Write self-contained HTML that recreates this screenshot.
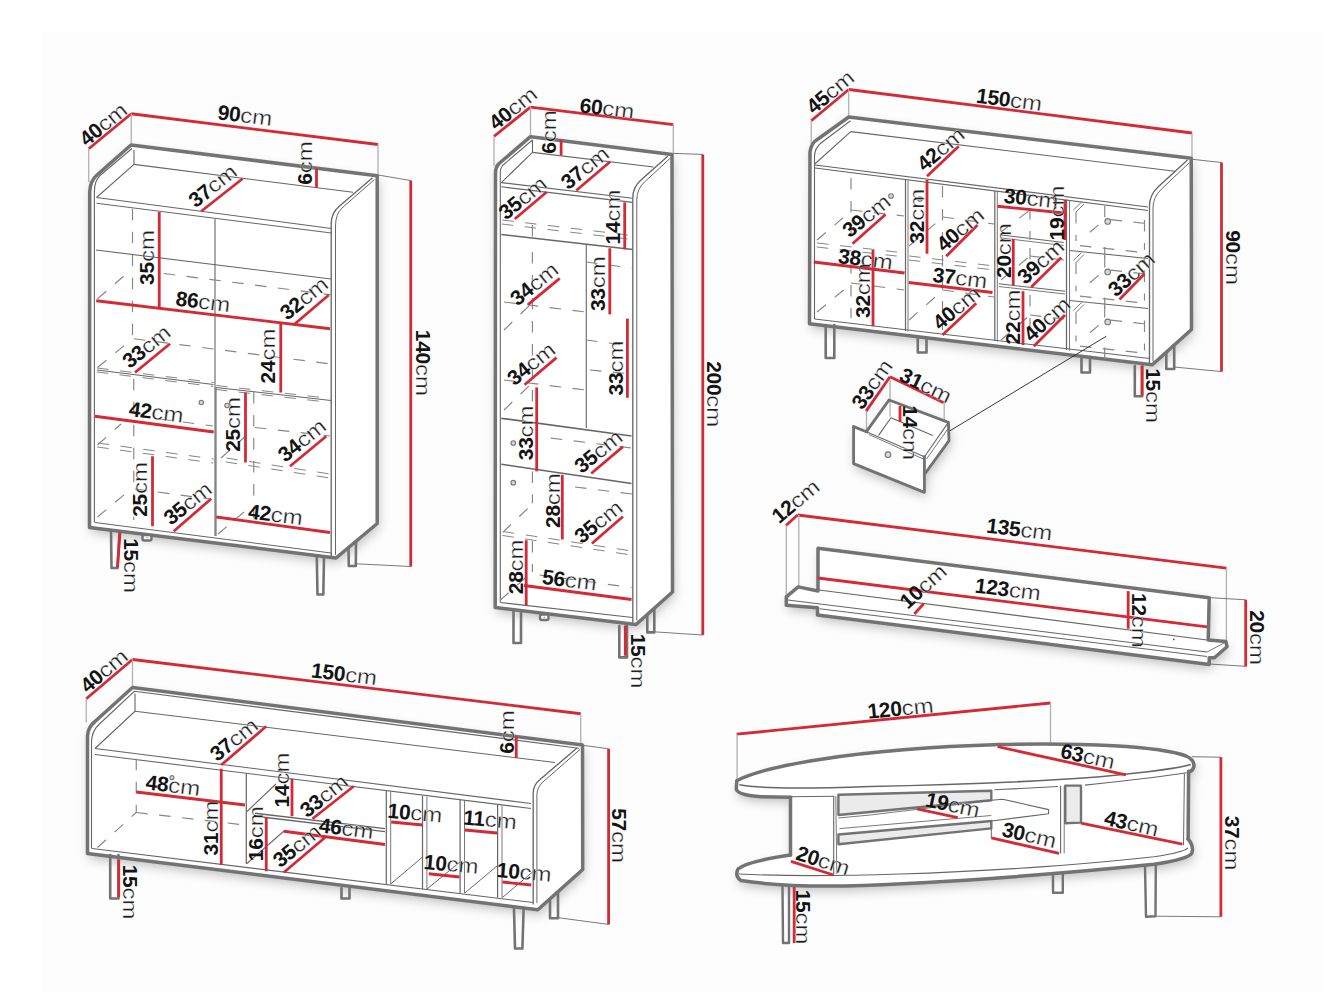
<!DOCTYPE html>
<html><head><meta charset="utf-8"><style>
html,body{margin:0;padding:0;background:#fff;}
body{width:1343px;height:1007px;overflow:hidden;}
svg{display:block;}
text{font-family:"Liberation Sans",sans-serif;fill:#141414;}
.cm{stroke:#fff;stroke-width:0.3px;fill:#1e1e1e;}
</style></head><body>
<svg width="1343" height="1007" viewBox="0 0 1343 1007">
<defs>
<filter id="sh" x="-20%" y="-20%" width="140%" height="140%"><feDropShadow dx="1.5" dy="5" stdDeviation="5.5" flood-color="#000" flood-opacity="0.24"/></filter>
</defs>
<rect x="0" y="0" width="1343" height="1007" fill="#fff"/>
<rect x="42" y="32" width="1281" height="960" fill="#fdfdfd"/>
<g filter="url(#sh)" fill="#fff" stroke="none"><path d="M131,145 L377.2,175.8 L377.2,523.5 L336,558 L89.5,527.5 L89.7,192 Q90,181 97,175 Z"/><path d="M530.5,136.7 L672,154.4 L672.5,592 L636,624.5 L495.2,607.5 L495.5,173 Q495.5,167.5 498.5,164 Z"/><path d="M848.75,117 L1191.2,158.3 L1191.5,329.5 L1152.3,364.8 L809.5,323.75 L810,152 Q811,143 818,139 Z"/><path d="M853.6,426.6 L866.6,431.3 L889,400 L948.4,422.4 L949,440.7 L925.5,473 L924.4,492.3 L853.6,463.6 Z"/><path d="M818,591 L818,548.3 L1209.2,597.7 L1208.2,640 L1225.9,641.5 L1227,646.7 L1214.4,657.7 L1209.2,657.7 L1209.2,664.4 L817.5,615 L817.5,607.8 L786.3,605.2 L786.3,596.8 L798.2,586.9 Z"/><path d="M132.5,687.5 L582.5,745 L582.7,869.5 L537.8,909.7 L87.5,853.5 L87.5,736 Q88,727 95,721.5 Z"/><path d="M736.8,780.7 C 762,767 850,749 1000,744.5 C 1080,742.5 1160,746 1186,756 Q 1195,760 1193.8,767.1 Q 1192.5,771 1188.6,772 L1188.1,839 Q 1194,846 1191.9,852.9 C 1190,857 1175,861 1153.9,864.3 C 1080,872 950,883 845,885.9 C 810,886.5 770,885 741,880.5 Q 734.5,876 738,869 C 745,863 770,858 790.5,855.1 L790.5,797.3 L 761.3,796.8 Q 737,795 736.3,789 Z"/></g>
<line x1="88.75" y1="148.75" x2="131.25" y2="113.75" stroke="#d42a36" stroke-width="2.8" stroke-linecap="butt"/>
<line x1="131.25" y1="113.75" x2="378" y2="144.5" stroke="#d42a36" stroke-width="2.8" stroke-linecap="butt"/>
<line x1="131.25" y1="113.75" x2="131.25" y2="145" stroke="#b0b0b0" stroke-width="1.3" />
<line x1="88.75" y1="148.75" x2="88.75" y2="182" stroke="#b0b0b0" stroke-width="1.3" />
<line x1="378" y1="144.5" x2="378" y2="175" stroke="#b0b0b0" stroke-width="1.3" />
<line x1="378" y1="175" x2="410.75" y2="180.5" stroke="#6a6a6a" stroke-width="0.9" />
<line x1="410.75" y1="180.5" x2="410.75" y2="566.5" stroke="#d42a36" stroke-width="2.8" stroke-linecap="butt"/>
<line x1="355" y1="563.75" x2="410.75" y2="566.5" stroke="#6a6a6a" stroke-width="0.9" />
<path d="M131,145 L377.2,175.8 L377.2,523.5 L336,558 L89.5,527.5 L89.7,192 Q90,181 97,175 Z" stroke="#737373" stroke-width="3.5" fill="none" stroke-linejoin="round" stroke-linecap="round"/>
<path d="M132,148.5 L100,175.5 Q94.4,181 94.4,192 L94.4,522.5" stroke="#666666" stroke-width="1.1" fill="none" stroke-linejoin="round"/>
<path d="M95,522.5 L331,553" stroke="#666666" stroke-width="1.1" fill="none" stroke-linejoin="round"/>
<path d="M372.5,177.7 L339,206.5 Q331.2,213 331.2,224 L331.2,557" stroke="#666666" stroke-width="1.32" fill="none" stroke-linejoin="round"/>
<path d="M374.5,179.5 L342,208 Q335.5,214 335.5,226 L335.5,555" stroke="#666666" stroke-width="0.9900000000000001" fill="none" stroke-linejoin="round"/>
<path d="M134,150.1 L134,164.4 L96.5,197.5" stroke="#666666" stroke-width="1.1" fill="none" stroke-linejoin="round"/>
<path d="M134,164.4 L353,192.3" stroke="#666666" stroke-width="1.1" fill="none" stroke-linejoin="round"/>
<path d="M96.5,197.5 L331.5,228.5" stroke="#666666" stroke-width="1.1" fill="none" stroke-linejoin="round"/>
<path d="M96.5,203.3 L331.5,233" stroke="#666666" stroke-width="1.1" fill="none" stroke-linejoin="round"/>
<path d="M215,219 L215,536" stroke="#666666" stroke-width="1.1" fill="none" stroke-linejoin="round"/>
<path d="M96,250 L331,279" stroke="#666666" stroke-width="1.1" fill="none" stroke-linejoin="round"/>
<line x1="132.5" y1="208.75" x2="132.5" y2="340" stroke="#858585" stroke-width="1.15" stroke-dasharray="11.5 11.5"/>
<line x1="163.75" y1="273.5" x2="331" y2="294.8" stroke="#858585" stroke-width="1.15" stroke-dasharray="11.5 11.5"/>
<line x1="97.5" y1="298.75" x2="125" y2="275" stroke="#858585" stroke-width="1.15" stroke-dasharray="11.5 11.5"/>
<line x1="133.75" y1="338.75" x2="329" y2="363.75" stroke="#858585" stroke-width="1.15" stroke-dasharray="11.5 11.5"/>
<line x1="97.5" y1="367.5" x2="132.5" y2="338.75" stroke="#858585" stroke-width="1.15" stroke-dasharray="11.5 11.5"/>
<path d="M97,370 L213.5,384.5" stroke="#666666" stroke-width="1.1" fill="none" stroke-linejoin="round"/>
<path d="M216,387.5 L331,400.5" stroke="#666666" stroke-width="1.1" fill="none" stroke-linejoin="round"/>
<line x1="96.75" y1="371.98" x2="213.25" y2="386.48" stroke="#858585" stroke-width="1.0" stroke-dasharray="11.5 11.5"/>
<line x1="97.25" y1="368.02" x2="213.75" y2="382.52" stroke="#858585" stroke-width="1.0" stroke-dasharray="11.5 11.5"/>
<line x1="215.78" y1="389.49" x2="330.78" y2="402.49" stroke="#858585" stroke-width="1.0" stroke-dasharray="11.5 11.5"/>
<line x1="216.22" y1="385.51" x2="331.22" y2="398.51" stroke="#858585" stroke-width="1.0" stroke-dasharray="11.5 11.5"/>
<path d="M216,387.5 L216,536" stroke="#666666" stroke-width="1.1" fill="none" stroke-linejoin="round"/>
<line x1="133.75" y1="378.75" x2="133.75" y2="520" stroke="#858585" stroke-width="1.15" stroke-dasharray="11.5 11.5"/>
<line x1="97.23" y1="446.98" x2="213.23" y2="462.98" stroke="#858585" stroke-width="1.0" stroke-dasharray="11.5 11.5"/>
<line x1="97.77" y1="443.02" x2="213.77" y2="459.02" stroke="#858585" stroke-width="1.0" stroke-dasharray="11.5 11.5"/>
<line x1="225.7" y1="461.98" x2="329.7" y2="477.98" stroke="#858585" stroke-width="1.0" stroke-dasharray="11.5 11.5"/>
<line x1="226.3" y1="458.02" x2="330.3" y2="474.02" stroke="#858585" stroke-width="1.0" stroke-dasharray="11.5 11.5"/>
<line x1="97.5" y1="445" x2="121" y2="424" stroke="#858585" stroke-width="1.15" stroke-dasharray="11.5 11.5"/>
<line x1="97.5" y1="517" x2="125" y2="494" stroke="#858585" stroke-width="1.15" stroke-dasharray="11.5 11.5"/>
<line x1="160" y1="419" x2="213" y2="426" stroke="#858585" stroke-width="1.15" stroke-dasharray="11.5 11.5"/>
<line x1="135" y1="489" x2="210" y2="499" stroke="#858585" stroke-width="1.15" stroke-dasharray="11.5 11.5"/>
<line x1="253.75" y1="392" x2="253.75" y2="520" stroke="#858585" stroke-width="1.15" stroke-dasharray="11.5 11.5"/>
<line x1="255" y1="427.5" x2="330" y2="436" stroke="#858585" stroke-width="1.15" stroke-dasharray="11.5 11.5"/>
<line x1="221" y1="458" x2="248" y2="434" stroke="#858585" stroke-width="1.15" stroke-dasharray="11.5 11.5"/>
<line x1="218" y1="534" x2="244" y2="512" stroke="#858585" stroke-width="1.15" stroke-dasharray="11.5 11.5"/>
<circle cx="201.25" cy="402.5" r="2.2" stroke="#777" stroke-width="1.1" fill="#d8d8d8"/>
<circle cx="227" cy="405.5" r="2.2" stroke="#777" stroke-width="1.1" fill="#d8d8d8"/>
<path d="M111,531 L111.5,568 L117.5,568 L119.5,531" stroke="#737373" stroke-width="2.6" fill="none" stroke-linejoin="round" stroke-linecap="round"/>
<path d="M316.8,557.5 L317.5,594.5 L323.3,594.5 L324,557.5" stroke="#737373" stroke-width="2.6" fill="none" stroke-linejoin="round" stroke-linecap="round"/>
<path d="M348.5,547.5 L348.8,566 L355.8,566 L356,541.2" stroke="#737373" stroke-width="2.6" fill="none" stroke-linejoin="round" stroke-linecap="round"/>
<rect x="142.5" y="535" width="9" height="5.5" rx="2" fill="#fff" stroke="#737373" stroke-width="2.4"/>
<circle cx="147" cy="537.75" r="0.8" fill="#999"/>
<line x1="201.25" y1="211.25" x2="242.5" y2="178.75" stroke="#d42a36" stroke-width="2.8" stroke-linecap="butt"/>
<line x1="316.5" y1="168.3" x2="316.5" y2="187.6" stroke="#d42a36" stroke-width="2.8" stroke-linecap="butt"/>
<line x1="159.25" y1="212" x2="159.25" y2="307.5" stroke="#d42a36" stroke-width="2.8" stroke-linecap="butt"/>
<line x1="96.25" y1="300.75" x2="330" y2="328.75" stroke="#d42a36" stroke-width="2.8" stroke-linecap="butt"/>
<line x1="295" y1="323.75" x2="328.75" y2="295" stroke="#d42a36" stroke-width="2.8" stroke-linecap="butt"/>
<line x1="280.75" y1="323.75" x2="280.75" y2="392.5" stroke="#d42a36" stroke-width="2.8" stroke-linecap="butt"/>
<line x1="135" y1="372.5" x2="170" y2="343.75" stroke="#d42a36" stroke-width="2.8" stroke-linecap="butt"/>
<line x1="95" y1="416.25" x2="213.75" y2="432" stroke="#d42a36" stroke-width="2.8" stroke-linecap="butt"/>
<line x1="245.5" y1="392.5" x2="245.5" y2="462.5" stroke="#d42a36" stroke-width="2.8" stroke-linecap="butt"/>
<line x1="290" y1="466.25" x2="326.25" y2="436.25" stroke="#d42a36" stroke-width="2.8" stroke-linecap="butt"/>
<line x1="152.5" y1="456.25" x2="152.5" y2="526.25" stroke="#d42a36" stroke-width="2.8" stroke-linecap="butt"/>
<line x1="173.75" y1="531.25" x2="211.25" y2="498.75" stroke="#d42a36" stroke-width="2.8" stroke-linecap="butt"/>
<line x1="216.25" y1="517" x2="330" y2="532.5" stroke="#d42a36" stroke-width="2.8" stroke-linecap="butt"/>
<line x1="120" y1="532.5" x2="117.5" y2="567.5" stroke="#d42a36" stroke-width="2.8" stroke-linecap="butt"/>
<text transform="translate(103,124) rotate(-39.5)" x="0" y="7.56" text-anchor="middle" font-size="21"><tspan font-weight="bold" letter-spacing="-0.3">40</tspan><tspan class="cm" textLength="32" lengthAdjust="spacingAndGlyphs">cm</tspan></text>
<text transform="translate(245,115) rotate(7)" x="0" y="7.56" text-anchor="middle" font-size="21"><tspan font-weight="bold" letter-spacing="-0.3">90</tspan><tspan class="cm" textLength="32" lengthAdjust="spacingAndGlyphs">cm</tspan></text>
<text transform="translate(304,163) rotate(-90)" x="0" y="7.56" text-anchor="middle" font-size="21"><tspan font-weight="bold" letter-spacing="-0.3">6</tspan><tspan class="cm" textLength="32" lengthAdjust="spacingAndGlyphs">cm</tspan></text>
<text transform="translate(212.5,185.5) rotate(-38.5)" x="0" y="7.56" text-anchor="middle" font-size="21"><tspan font-weight="bold" letter-spacing="-0.3">37</tspan><tspan class="cm" textLength="32" lengthAdjust="spacingAndGlyphs">cm</tspan></text>
<text transform="translate(146.25,257.5) rotate(-90)" x="0" y="7.56" text-anchor="middle" font-size="21"><tspan font-weight="bold" letter-spacing="-0.3">35</tspan><tspan class="cm" textLength="32" lengthAdjust="spacingAndGlyphs">cm</tspan></text>
<text transform="translate(203,301.25) rotate(7)" x="0" y="7.56" text-anchor="middle" font-size="21"><tspan font-weight="bold" letter-spacing="-0.3">86</tspan><tspan class="cm" textLength="32" lengthAdjust="spacingAndGlyphs">cm</tspan></text>
<text transform="translate(303.75,298) rotate(-39)" x="0" y="7.56" text-anchor="middle" font-size="21"><tspan font-weight="bold" letter-spacing="-0.3">32</tspan><tspan class="cm" textLength="32" lengthAdjust="spacingAndGlyphs">cm</tspan></text>
<text transform="translate(146.25,346.25) rotate(-39)" x="0" y="7.56" text-anchor="middle" font-size="21"><tspan font-weight="bold" letter-spacing="-0.3">33</tspan><tspan class="cm" textLength="32" lengthAdjust="spacingAndGlyphs">cm</tspan></text>
<text transform="translate(267.5,356) rotate(-90)" x="0" y="7.56" text-anchor="middle" font-size="21"><tspan font-weight="bold" letter-spacing="-0.3">24</tspan><tspan class="cm" textLength="32" lengthAdjust="spacingAndGlyphs">cm</tspan></text>
<text transform="translate(423.5,362.9) rotate(90)" x="0" y="7.56" text-anchor="middle" font-size="21"><tspan font-weight="bold" letter-spacing="-0.3">140</tspan><tspan class="cm" textLength="32" lengthAdjust="spacingAndGlyphs">cm</tspan></text>
<text transform="translate(156.25,411.75) rotate(7)" x="0" y="7.56" text-anchor="middle" font-size="21"><tspan font-weight="bold" letter-spacing="-0.3">42</tspan><tspan class="cm" textLength="32" lengthAdjust="spacingAndGlyphs">cm</tspan></text>
<text transform="translate(232.5,424.4) rotate(-90)" x="0" y="7.56" text-anchor="middle" font-size="21"><tspan font-weight="bold" letter-spacing="-0.3">25</tspan><tspan class="cm" textLength="32" lengthAdjust="spacingAndGlyphs">cm</tspan></text>
<text transform="translate(301.75,440) rotate(-39)" x="0" y="7.56" text-anchor="middle" font-size="21"><tspan font-weight="bold" letter-spacing="-0.3">34</tspan><tspan class="cm" textLength="32" lengthAdjust="spacingAndGlyphs">cm</tspan></text>
<text transform="translate(139.5,489.4) rotate(-90)" x="0" y="7.56" text-anchor="middle" font-size="21"><tspan font-weight="bold" letter-spacing="-0.3">25</tspan><tspan class="cm" textLength="32" lengthAdjust="spacingAndGlyphs">cm</tspan></text>
<text transform="translate(187.5,503) rotate(-39)" x="0" y="7.56" text-anchor="middle" font-size="21"><tspan font-weight="bold" letter-spacing="-0.3">35</tspan><tspan class="cm" textLength="32" lengthAdjust="spacingAndGlyphs">cm</tspan></text>
<text transform="translate(275.5,514.25) rotate(7)" x="0" y="7.56" text-anchor="middle" font-size="21"><tspan font-weight="bold" letter-spacing="-0.3">42</tspan><tspan class="cm" textLength="32" lengthAdjust="spacingAndGlyphs">cm</tspan></text>
<text transform="translate(131.25,565.6) rotate(90)" x="0" y="7.56" text-anchor="middle" font-size="21"><tspan font-weight="bold" letter-spacing="-0.3">15</tspan><tspan class="cm" textLength="32" lengthAdjust="spacingAndGlyphs">cm</tspan></text>
<line x1="494" y1="136.3" x2="530.5" y2="107.1" stroke="#d42a36" stroke-width="2.8" stroke-linecap="butt"/>
<line x1="530.5" y1="107.1" x2="673.3" y2="124.6" stroke="#d42a36" stroke-width="2.8" stroke-linecap="butt"/>
<line x1="530.5" y1="107.1" x2="530.5" y2="136.7" stroke="#b0b0b0" stroke-width="1.3" />
<line x1="673.3" y1="124.6" x2="673.3" y2="153.4" stroke="#b0b0b0" stroke-width="1.3" />
<line x1="494" y1="136.3" x2="494" y2="166" stroke="#b0b0b0" stroke-width="1.3" />
<line x1="673.3" y1="153.4" x2="702.8" y2="154.4" stroke="#6a6a6a" stroke-width="0.9" />
<line x1="702.8" y1="154.4" x2="702.8" y2="635" stroke="#d42a36" stroke-width="2.8" stroke-linecap="butt"/>
<line x1="652" y1="631.7" x2="702.8" y2="635" stroke="#6a6a6a" stroke-width="0.9" />
<path d="M530.5,136.7 L672,154.4 L672.5,592 L636,624.5 L495.2,607.5 L495.5,173 Q495.5,167.5 498.5,164 Z" stroke="#737373" stroke-width="3.5" fill="none" stroke-linejoin="round" stroke-linecap="round"/>
<path d="M532.5,140 L502.5,165.5 Q500.3,168 500.3,173 L500.3,602.5" stroke="#666666" stroke-width="1.1" fill="none" stroke-linejoin="round"/>
<path d="M500.5,602.5 L632.5,617.5" stroke="#666666" stroke-width="1.1" fill="none" stroke-linejoin="round"/>
<path d="M668,156 L641,180 Q632.8,187 632.8,198 L632.8,622.5" stroke="#666666" stroke-width="1.32" fill="none" stroke-linejoin="round"/>
<path d="M670.5,158 L644.5,182 Q636.8,189 636.8,200 L636.8,620.5" stroke="#666666" stroke-width="0.9900000000000001" fill="none" stroke-linejoin="round"/>
<path d="M532.5,139.8 L532.5,152.4 L501.3,182.6" stroke="#666666" stroke-width="1.1" fill="none" stroke-linejoin="round"/>
<path d="M532.5,152.4 L653.5,167" stroke="#666666" stroke-width="1.1" fill="none" stroke-linejoin="round"/>
<path d="M501.3,182.6 L632.6,198.2" stroke="#666666" stroke-width="1.1" fill="none" stroke-linejoin="round"/>
<path d="M501.3,186.8 L632.6,202.4" stroke="#666666" stroke-width="1.1" fill="none" stroke-linejoin="round"/>
<line x1="501.76" y1="223.99" x2="631.76" y2="239.49" stroke="#858585" stroke-width="1.0" stroke-dasharray="11.5 11.5"/>
<line x1="502.24" y1="220.01" x2="632.24" y2="235.51" stroke="#858585" stroke-width="1.0" stroke-dasharray="11.5 11.5"/>
<line x1="532.4" y1="225" x2="532.4" y2="237" stroke="#858585" stroke-width="1.15" stroke-dasharray="11.5 11.5"/>
<path d="M501.3,234.5 L632.6,249.5" stroke="#666666" stroke-width="1.4300000000000002" fill="none" stroke-linejoin="round"/>
<path d="M586.3,245 L586.3,428" stroke="#666666" stroke-width="1.1" fill="none" stroke-linejoin="round"/>
<line x1="532.4" y1="252" x2="532.4" y2="415" stroke="#858585" stroke-width="1.15" stroke-dasharray="11.5 11.5"/>
<line x1="504" y1="302" x2="586" y2="312" stroke="#858585" stroke-width="1.15" stroke-dasharray="11.5 11.5"/>
<line x1="504" y1="380" x2="586" y2="390" stroke="#858585" stroke-width="1.15" stroke-dasharray="11.5 11.5"/>
<line x1="586" y1="262" x2="632" y2="268" stroke="#858585" stroke-width="1.15" stroke-dasharray="11.5 11.5"/>
<line x1="586" y1="340" x2="632" y2="346" stroke="#858585" stroke-width="1.15" stroke-dasharray="11.5 11.5"/>
<line x1="504" y1="330" x2="532" y2="303" stroke="#858585" stroke-width="1.15" stroke-dasharray="11.5 11.5"/>
<line x1="504" y1="410" x2="532" y2="383" stroke="#858585" stroke-width="1.15" stroke-dasharray="11.5 11.5"/>
<line x1="590" y1="370" x2="632" y2="374" stroke="#858585" stroke-width="1.15" stroke-dasharray="11.5 11.5"/>
<path d="M501.3,418.3 L631.5,436" stroke="#666666" stroke-width="1.7600000000000002" fill="none" stroke-linejoin="round"/>
<line x1="550.8" y1="438.1" x2="631.5" y2="448" stroke="#858585" stroke-width="1.15" stroke-dasharray="11.5 11.5"/>
<path d="M501.3,464.3 L631.5,483.4" stroke="#666666" stroke-width="1.54" fill="none" stroke-linejoin="round"/>
<line x1="532.4" y1="471.4" x2="532.4" y2="503.2" stroke="#858585" stroke-width="1.15" stroke-dasharray="11.5 11.5"/>
<line x1="502.7" y1="532.4" x2="532.4" y2="504" stroke="#858585" stroke-width="1.15" stroke-dasharray="11.5 11.5"/>
<line x1="575" y1="487" x2="632" y2="494" stroke="#858585" stroke-width="1.15" stroke-dasharray="11.5 11.5"/>
<line x1="502.4" y1="535.48" x2="631.2" y2="554.98" stroke="#858585" stroke-width="1.0" stroke-dasharray="11.5 11.5"/>
<line x1="503" y1="531.52" x2="631.8" y2="551.02" stroke="#858585" stroke-width="1.0" stroke-dasharray="11.5 11.5"/>
<line x1="532.4" y1="541" x2="532.4" y2="572" stroke="#858585" stroke-width="1.15" stroke-dasharray="11.5 11.5"/>
<line x1="539.5" y1="575" x2="631.5" y2="587.6" stroke="#858585" stroke-width="1.15" stroke-dasharray="11.5 11.5"/>
<line x1="500" y1="600.4" x2="532" y2="572" stroke="#858585" stroke-width="1.15" stroke-dasharray="11.5 11.5"/>
<circle cx="513.3" cy="443" r="2.3" stroke="#777" stroke-width="1.1" fill="#d8d8d8"/>
<circle cx="513.3" cy="482.7" r="2.3" stroke="#777" stroke-width="1.1" fill="#d8d8d8"/>
<path d="M513.5,611 L513.5,643 L521,643 L521,611" stroke="#737373" stroke-width="2.6" fill="none" stroke-linejoin="round" stroke-linecap="round"/>
<path d="M619.3,626 L619.3,657.4 L627,657.4 L627,626" stroke="#737373" stroke-width="2.6" fill="none" stroke-linejoin="round" stroke-linecap="round"/>
<path d="M647.3,614.4 L647.3,632.4 L654.3,632.4 L654.3,608.2" stroke="#737373" stroke-width="2.6" fill="none" stroke-linejoin="round" stroke-linecap="round"/>
<rect x="540" y="614.5" width="8.5" height="5.5" rx="2" fill="#fff" stroke="#737373" stroke-width="2.4"/>
<circle cx="544.25" cy="617.25" r="0.8" fill="#999"/>
<line x1="561.1" y1="139.8" x2="561.1" y2="155.5" stroke="#d42a36" stroke-width="2.8" stroke-linecap="butt"/>
<line x1="576.3" y1="190.5" x2="610.1" y2="161.7" stroke="#d42a36" stroke-width="2.8" stroke-linecap="butt"/>
<line x1="514.8" y1="219" x2="546.7" y2="192" stroke="#d42a36" stroke-width="2.8" stroke-linecap="butt"/>
<line x1="624.7" y1="202.4" x2="624.7" y2="249.3" stroke="#d42a36" stroke-width="2.8" stroke-linecap="butt"/>
<line x1="609.8" y1="248.3" x2="609.8" y2="314.4" stroke="#d42a36" stroke-width="2.8" stroke-linecap="butt"/>
<line x1="627.4" y1="318.6" x2="627.4" y2="397.8" stroke="#d42a36" stroke-width="2.8" stroke-linecap="butt"/>
<line x1="528" y1="304.6" x2="559.7" y2="278.4" stroke="#d42a36" stroke-width="2.8" stroke-linecap="butt"/>
<line x1="524.6" y1="384.7" x2="556.5" y2="357.6" stroke="#d42a36" stroke-width="2.8" stroke-linecap="butt"/>
<line x1="536.7" y1="387.4" x2="536.7" y2="471.4" stroke="#d42a36" stroke-width="2.8" stroke-linecap="butt"/>
<line x1="591.2" y1="473.5" x2="623" y2="446.6" stroke="#d42a36" stroke-width="2.8" stroke-linecap="butt"/>
<line x1="562.3" y1="474.9" x2="562.3" y2="539.5" stroke="#d42a36" stroke-width="2.8" stroke-linecap="butt"/>
<line x1="591.9" y1="543.5" x2="623" y2="516.5" stroke="#d42a36" stroke-width="2.8" stroke-linecap="butt"/>
<line x1="526.2" y1="540.2" x2="526.2" y2="605.3" stroke="#d42a36" stroke-width="2.8" stroke-linecap="butt"/>
<line x1="524" y1="585.5" x2="631.5" y2="599.5" stroke="#d42a36" stroke-width="2.8" stroke-linecap="butt"/>
<line x1="625.3" y1="625.5" x2="625.3" y2="655.7" stroke="#d42a36" stroke-width="2.8" stroke-linecap="butt"/>
<text transform="translate(512.7,108) rotate(-38.7)" x="0" y="7.56" text-anchor="middle" font-size="21"><tspan font-weight="bold" letter-spacing="-0.3">40</tspan><tspan class="cm" textLength="32" lengthAdjust="spacingAndGlyphs">cm</tspan></text>
<text transform="translate(607,108) rotate(7)" x="0" y="7.56" text-anchor="middle" font-size="21"><tspan font-weight="bold" letter-spacing="-0.3">60</tspan><tspan class="cm" textLength="32" lengthAdjust="spacingAndGlyphs">cm</tspan></text>
<text transform="translate(548.2,132) rotate(-90)" x="0" y="7.56" text-anchor="middle" font-size="21"><tspan font-weight="bold" letter-spacing="-0.3">6</tspan><tspan class="cm" textLength="32" lengthAdjust="spacingAndGlyphs">cm</tspan></text>
<text transform="translate(584.7,167.4) rotate(-39)" x="0" y="7.56" text-anchor="middle" font-size="21"><tspan font-weight="bold" letter-spacing="-0.3">37</tspan><tspan class="cm" textLength="32" lengthAdjust="spacingAndGlyphs">cm</tspan></text>
<text transform="translate(522.5,197.6) rotate(-39)" x="0" y="7.56" text-anchor="middle" font-size="21"><tspan font-weight="bold" letter-spacing="-0.3">35</tspan><tspan class="cm" textLength="32" lengthAdjust="spacingAndGlyphs">cm</tspan></text>
<text transform="translate(612.8,217) rotate(-90)" x="0" y="7.56" text-anchor="middle" font-size="21"><tspan font-weight="bold" letter-spacing="-0.3">14</tspan><tspan class="cm" textLength="32" lengthAdjust="spacingAndGlyphs">cm</tspan></text>
<text transform="translate(534,283.6) rotate(-39)" x="0" y="7.56" text-anchor="middle" font-size="21"><tspan font-weight="bold" letter-spacing="-0.3">34</tspan><tspan class="cm" textLength="32" lengthAdjust="spacingAndGlyphs">cm</tspan></text>
<text transform="translate(597.6,283.7) rotate(-90)" x="0" y="7.56" text-anchor="middle" font-size="21"><tspan font-weight="bold" letter-spacing="-0.3">33</tspan><tspan class="cm" textLength="32" lengthAdjust="spacingAndGlyphs">cm</tspan></text>
<text transform="translate(530.9,363.4) rotate(-39)" x="0" y="7.56" text-anchor="middle" font-size="21"><tspan font-weight="bold" letter-spacing="-0.3">34</tspan><tspan class="cm" textLength="32" lengthAdjust="spacingAndGlyphs">cm</tspan></text>
<text transform="translate(615.3,368) rotate(-90)" x="0" y="7.56" text-anchor="middle" font-size="21"><tspan font-weight="bold" letter-spacing="-0.3">33</tspan><tspan class="cm" textLength="32" lengthAdjust="spacingAndGlyphs">cm</tspan></text>
<text transform="translate(715,394.2) rotate(90)" x="0" y="7.56" text-anchor="middle" font-size="21"><tspan font-weight="bold" letter-spacing="-0.3">200</tspan><tspan class="cm" textLength="32" lengthAdjust="spacingAndGlyphs">cm</tspan></text>
<text transform="translate(525.3,432.8) rotate(-90)" x="0" y="7.56" text-anchor="middle" font-size="21"><tspan font-weight="bold" letter-spacing="-0.3">33</tspan><tspan class="cm" textLength="32" lengthAdjust="spacingAndGlyphs">cm</tspan></text>
<text transform="translate(598.2,451.1) rotate(-39)" x="0" y="7.56" text-anchor="middle" font-size="21"><tspan font-weight="bold" letter-spacing="-0.3">35</tspan><tspan class="cm" textLength="32" lengthAdjust="spacingAndGlyphs">cm</tspan></text>
<text transform="translate(552,500.6) rotate(-90)" x="0" y="7.56" text-anchor="middle" font-size="21"><tspan font-weight="bold" letter-spacing="-0.3">28</tspan><tspan class="cm" textLength="32" lengthAdjust="spacingAndGlyphs">cm</tspan></text>
<text transform="translate(598.2,521.4) rotate(-39)" x="0" y="7.56" text-anchor="middle" font-size="21"><tspan font-weight="bold" letter-spacing="-0.3">35</tspan><tspan class="cm" textLength="32" lengthAdjust="spacingAndGlyphs">cm</tspan></text>
<text transform="translate(515.5,566.8) rotate(-90)" x="0" y="7.56" text-anchor="middle" font-size="21"><tspan font-weight="bold" letter-spacing="-0.3">28</tspan><tspan class="cm" textLength="32" lengthAdjust="spacingAndGlyphs">cm</tspan></text>
<text transform="translate(569.5,579.7) rotate(7)" x="0" y="7.56" text-anchor="middle" font-size="21"><tspan font-weight="bold" letter-spacing="-0.3">56</tspan><tspan class="cm" textLength="32" lengthAdjust="spacingAndGlyphs">cm</tspan></text>
<text transform="translate(638.9,661) rotate(90)" x="0" y="7.56" text-anchor="middle" font-size="21"><tspan font-weight="bold" letter-spacing="-0.3">15</tspan><tspan class="cm" textLength="32" lengthAdjust="spacingAndGlyphs">cm</tspan></text>
<line x1="811.25" y1="120.75" x2="848.75" y2="89.5" stroke="#d42a36" stroke-width="2.8" stroke-linecap="butt"/>
<line x1="848.75" y1="89.5" x2="1192" y2="133" stroke="#d42a36" stroke-width="2.8" stroke-linecap="butt"/>
<line x1="848.75" y1="89.5" x2="848.75" y2="116.5" stroke="#b0b0b0" stroke-width="1.3" />
<line x1="811.25" y1="120.75" x2="811.25" y2="144" stroke="#b0b0b0" stroke-width="1.3" />
<line x1="1192" y1="133" x2="1192" y2="158.25" stroke="#b0b0b0" stroke-width="1.3" />
<line x1="1192" y1="159.25" x2="1221.5" y2="162.5" stroke="#6a6a6a" stroke-width="0.9" />
<line x1="1221.5" y1="162.5" x2="1221.5" y2="371.6" stroke="#d42a36" stroke-width="2.8" stroke-linecap="butt"/>
<line x1="1174.2" y1="367" x2="1221.5" y2="371.6" stroke="#6a6a6a" stroke-width="0.9" />
<path d="M848.75,117 L1191.2,158.3 L1191.5,329.5 L1152.3,364.8 L809.5,323.75 L810,152 Q811,143 818,139 Z" stroke="#737373" stroke-width="3.5" fill="none" stroke-linejoin="round" stroke-linecap="round"/>
<path d="M850.5,120.8 L821,143 Q814.5,148 814.5,157 L814.5,319" stroke="#666666" stroke-width="1.1" fill="none" stroke-linejoin="round"/>
<path d="M814.5,319 L1149.5,358.5" stroke="#666666" stroke-width="1.1" fill="none" stroke-linejoin="round"/>
<path d="M1187.5,160 L1158,187 Q1149.5,195 1149.5,206 L1149.5,363" stroke="#666666" stroke-width="1.32" fill="none" stroke-linejoin="round"/>
<path d="M1189.5,162.5 L1161.5,189 Q1153,197 1153,208 L1153,361.5" stroke="#666666" stroke-width="0.9900000000000001" fill="none" stroke-linejoin="round"/>
<path d="M850.8,131.6 L815,163.75" stroke="#666666" stroke-width="1.1" fill="none" stroke-linejoin="round"/>
<path d="M850.8,131.6 L1175,171.25" stroke="#666666" stroke-width="1.1" fill="none" stroke-linejoin="round"/>
<path d="M815,165 L1148,207" stroke="#666666" stroke-width="1.1" fill="none" stroke-linejoin="round"/>
<path d="M815,168 L1148,210.5" stroke="#666666" stroke-width="1.1" fill="none" stroke-linejoin="round"/>
<path d="M905.5,180 L905.5,331" stroke="#666666" stroke-width="1.2100000000000002" fill="none" stroke-linejoin="round"/>
<path d="M908,180.5 L908,331.5" stroke="#666666" stroke-width="0.8800000000000001" fill="none" stroke-linejoin="round"/>
<path d="M994.8,191 L994.8,341" stroke="#666666" stroke-width="1.2100000000000002" fill="none" stroke-linejoin="round"/>
<path d="M997.3,191.5 L997.3,341.5" stroke="#666666" stroke-width="0.8800000000000001" fill="none" stroke-linejoin="round"/>
<path d="M1066.5,199.5 L1066.5,350" stroke="#666666" stroke-width="1.2100000000000002" fill="none" stroke-linejoin="round"/>
<path d="M1069.5,200 L1069.5,350.5" stroke="#666666" stroke-width="0.8800000000000001" fill="none" stroke-linejoin="round"/>
<line x1="851" y1="178" x2="851" y2="240" stroke="#858585" stroke-width="1.15" stroke-dasharray="11.5 11.5"/>
<line x1="851" y1="262" x2="851" y2="318" stroke="#858585" stroke-width="1.15" stroke-dasharray="11.5 11.5"/>
<line x1="851" y1="210" x2="904" y2="216" stroke="#858585" stroke-width="1.15" stroke-dasharray="11.5 11.5"/>
<line x1="851" y1="283" x2="904" y2="290" stroke="#858585" stroke-width="1.15" stroke-dasharray="11.5 11.5"/>
<line x1="817" y1="240" x2="851" y2="211" stroke="#858585" stroke-width="1.15" stroke-dasharray="11.5 11.5"/>
<line x1="817" y1="312" x2="851" y2="284" stroke="#858585" stroke-width="1.15" stroke-dasharray="11.5 11.5"/>
<line x1="816.77" y1="246.99" x2="904.77" y2="256.99" stroke="#858585" stroke-width="1.0" stroke-dasharray="11.5 11.5"/>
<line x1="817.23" y1="243.01" x2="905.23" y2="253.01" stroke="#858585" stroke-width="1.0" stroke-dasharray="11.5 11.5"/>
<circle cx="891" cy="196" r="2.3" stroke="#777" stroke-width="1.1" fill="#d8d8d8"/>
<line x1="942.5" y1="186" x2="942.5" y2="330" stroke="#858585" stroke-width="1.15" stroke-dasharray="11.5 11.5"/>
<line x1="942.5" y1="217" x2="994" y2="224" stroke="#858585" stroke-width="1.15" stroke-dasharray="11.5 11.5"/>
<line x1="942.5" y1="290" x2="994" y2="297" stroke="#858585" stroke-width="1.15" stroke-dasharray="11.5 11.5"/>
<line x1="909" y1="246" x2="942" y2="218" stroke="#858585" stroke-width="1.15" stroke-dasharray="11.5 11.5"/>
<line x1="909" y1="320" x2="942" y2="291" stroke="#858585" stroke-width="1.15" stroke-dasharray="11.5 11.5"/>
<line x1="908.77" y1="259.99" x2="993.77" y2="269.99" stroke="#858585" stroke-width="1.0" stroke-dasharray="11.5 11.5"/>
<line x1="909.23" y1="256.01" x2="994.23" y2="266.01" stroke="#858585" stroke-width="1.0" stroke-dasharray="11.5 11.5"/>
<circle cx="920" cy="199" r="2.3" stroke="#777" stroke-width="1.1" fill="#d8d8d8"/>
<path d="M1001.25,235 L1063.75,242.5" stroke="#666666" stroke-width="1.1" fill="none" stroke-linejoin="round"/>
<path d="M1001.25,238 L1063.75,245.5" stroke="#666666" stroke-width="0.8800000000000001" fill="none" stroke-linejoin="round"/>
<path d="M998.75,283.75 L1065,291.25" stroke="#666666" stroke-width="1.1" fill="none" stroke-linejoin="round"/>
<path d="M998.75,286.5 L1065,294" stroke="#666666" stroke-width="0.8800000000000001" fill="none" stroke-linejoin="round"/>
<line x1="1030" y1="208" x2="1030" y2="240" stroke="#858585" stroke-width="1.15" stroke-dasharray="11.5 11.5"/>
<line x1="1030" y1="248" x2="1030" y2="285" stroke="#858585" stroke-width="1.15" stroke-dasharray="11.5 11.5"/>
<line x1="1030" y1="295" x2="1030" y2="340" stroke="#858585" stroke-width="1.15" stroke-dasharray="11.5 11.5"/>
<line x1="1001" y1="232" x2="1030" y2="210" stroke="#858585" stroke-width="1.15" stroke-dasharray="11.5 11.5"/>
<line x1="1001" y1="280" x2="1030" y2="256" stroke="#858585" stroke-width="1.15" stroke-dasharray="11.5 11.5"/>
<line x1="1030" y1="256" x2="1064" y2="260" stroke="#858585" stroke-width="1.15" stroke-dasharray="11.5 11.5"/>
<line x1="1001" y1="340" x2="1030" y2="315" stroke="#858585" stroke-width="1.15" stroke-dasharray="11.5 11.5"/>
<line x1="1030" y1="315" x2="1064" y2="319" stroke="#858585" stroke-width="1.15" stroke-dasharray="11.5 11.5"/>
<path d="M1069.5,250.5 L1148,258.5" stroke="#666666" stroke-width="1.1" fill="none" stroke-linejoin="round"/>
<path d="M1069.5,300.5 L1148,308.5" stroke="#666666" stroke-width="1.1" fill="none" stroke-linejoin="round"/>
<line x1="1076" y1="212" x2="1076" y2="241" stroke="#858585" stroke-width="1.15" stroke-dasharray="11.5 11.5"/>
<line x1="1144.5" y1="220" x2="1144.5" y2="250" stroke="#858585" stroke-width="1.15" stroke-dasharray="11.5 11.5"/>
<line x1="1080" y1="245.6" x2="1138" y2="252" stroke="#858585" stroke-width="1.15" stroke-dasharray="11.5 11.5"/>
<line x1="1110.6" y1="219.6" x2="1144" y2="223.3" stroke="#858585" stroke-width="1.15" stroke-dasharray="11.5 11.5"/>
<line x1="1089.8" y1="232.2" x2="1098.7" y2="224.8" stroke="#858585" stroke-width="1.15" stroke-dasharray="11.5 11.5"/>
<line x1="1104.7" y1="206" x2="1104.7" y2="217" stroke="#858585" stroke-width="1.15" stroke-dasharray="11.5 11.5"/>
<line x1="1104.7" y1="247" x2="1104.7" y2="258" stroke="#858585" stroke-width="1.15" stroke-dasharray="11.5 11.5"/>
<path d="M1073.4,210 L1081.6,202" stroke="#666666" stroke-width="0.8800000000000001" fill="none" stroke-linejoin="round"/>
<path d="M1076,212 L1084,204" stroke="#666666" stroke-width="0.8800000000000001" fill="none" stroke-linejoin="round"/>
<circle cx="1107.7" cy="221.4" r="2.8" stroke="#777" stroke-width="1.1" fill="#d8d8d8"/>
<line x1="1076" y1="262.5" x2="1076" y2="291.5" stroke="#858585" stroke-width="1.15" stroke-dasharray="11.5 11.5"/>
<line x1="1144.5" y1="270.5" x2="1144.5" y2="300.5" stroke="#858585" stroke-width="1.15" stroke-dasharray="11.5 11.5"/>
<line x1="1080" y1="296.1" x2="1138" y2="302.5" stroke="#858585" stroke-width="1.15" stroke-dasharray="11.5 11.5"/>
<line x1="1110.6" y1="270.1" x2="1144" y2="273.8" stroke="#858585" stroke-width="1.15" stroke-dasharray="11.5 11.5"/>
<line x1="1089.8" y1="282.7" x2="1098.7" y2="275.3" stroke="#858585" stroke-width="1.15" stroke-dasharray="11.5 11.5"/>
<line x1="1104.7" y1="256.5" x2="1104.7" y2="267.5" stroke="#858585" stroke-width="1.15" stroke-dasharray="11.5 11.5"/>
<line x1="1104.7" y1="297.5" x2="1104.7" y2="308.5" stroke="#858585" stroke-width="1.15" stroke-dasharray="11.5 11.5"/>
<path d="M1073.4,260.5 L1081.6,252.5" stroke="#666666" stroke-width="0.8800000000000001" fill="none" stroke-linejoin="round"/>
<path d="M1076,262.5 L1084,254.5" stroke="#666666" stroke-width="0.8800000000000001" fill="none" stroke-linejoin="round"/>
<circle cx="1107.7" cy="271.9" r="2.8" stroke="#777" stroke-width="1.1" fill="#d8d8d8"/>
<line x1="1076" y1="312.5" x2="1076" y2="341.5" stroke="#858585" stroke-width="1.15" stroke-dasharray="11.5 11.5"/>
<line x1="1144.5" y1="320.5" x2="1144.5" y2="350.5" stroke="#858585" stroke-width="1.15" stroke-dasharray="11.5 11.5"/>
<line x1="1080" y1="346.1" x2="1138" y2="352.5" stroke="#858585" stroke-width="1.15" stroke-dasharray="11.5 11.5"/>
<line x1="1110.6" y1="320.1" x2="1144" y2="323.8" stroke="#858585" stroke-width="1.15" stroke-dasharray="11.5 11.5"/>
<line x1="1089.8" y1="332.7" x2="1098.7" y2="325.3" stroke="#858585" stroke-width="1.15" stroke-dasharray="11.5 11.5"/>
<line x1="1104.7" y1="306.5" x2="1104.7" y2="317.5" stroke="#858585" stroke-width="1.15" stroke-dasharray="11.5 11.5"/>
<line x1="1104.7" y1="347.5" x2="1104.7" y2="358.5" stroke="#858585" stroke-width="1.15" stroke-dasharray="11.5 11.5"/>
<path d="M1073.4,310.5 L1081.6,302.5" stroke="#666666" stroke-width="0.8800000000000001" fill="none" stroke-linejoin="round"/>
<path d="M1076,312.5 L1084,304.5" stroke="#666666" stroke-width="0.8800000000000001" fill="none" stroke-linejoin="round"/>
<circle cx="1107.7" cy="321.9" r="2.8" stroke="#777" stroke-width="1.1" fill="#d8d8d8"/>
<path d="M825.7,325 L825.7,358 L834.3,358 L834.3,325" stroke="#737373" stroke-width="2.6" fill="none" stroke-linejoin="round" stroke-linecap="round"/>
<path d="M917.8,339 L917.8,352.5 L926.5,352.5 L926.5,339" stroke="#737373" stroke-width="2.6" fill="none" stroke-linejoin="round" stroke-linecap="round"/>
<path d="M1081.5,357 L1081.5,372.5 L1090,372.5 L1090,357" stroke="#737373" stroke-width="2.6" fill="none" stroke-linejoin="round" stroke-linecap="round"/>
<path d="M1134.8,366 L1134.8,396.2 L1142.2,396.2 L1142.2,366" stroke="#737373" stroke-width="2.6" fill="none" stroke-linejoin="round" stroke-linecap="round"/>
<path d="M1166.3,352.2 L1166.3,369 L1174.2,369 L1174.2,345.1" stroke="#737373" stroke-width="2.6" fill="none" stroke-linejoin="round" stroke-linecap="round"/>
<line x1="927" y1="176.25" x2="958.75" y2="146.25" stroke="#d42a36" stroke-width="2.8" stroke-linecap="butt"/>
<line x1="927" y1="180" x2="927" y2="253.75" stroke="#d42a36" stroke-width="2.8" stroke-linecap="butt"/>
<line x1="852.5" y1="243.75" x2="885.5" y2="214.5" stroke="#d42a36" stroke-width="2.8" stroke-linecap="butt"/>
<line x1="946.25" y1="256.25" x2="977.5" y2="225" stroke="#d42a36" stroke-width="2.8" stroke-linecap="butt"/>
<line x1="813.75" y1="262" x2="904.5" y2="273" stroke="#d42a36" stroke-width="2.8" stroke-linecap="butt"/>
<line x1="873" y1="250" x2="873" y2="326.25" stroke="#d42a36" stroke-width="2.8" stroke-linecap="butt"/>
<line x1="908.75" y1="282.5" x2="992.5" y2="292.5" stroke="#d42a36" stroke-width="2.8" stroke-linecap="butt"/>
<line x1="942.5" y1="335" x2="976.25" y2="303.25" stroke="#d42a36" stroke-width="2.8" stroke-linecap="butt"/>
<line x1="997.5" y1="206.25" x2="1063.75" y2="213" stroke="#d42a36" stroke-width="2.8" stroke-linecap="butt"/>
<line x1="1065" y1="200" x2="1065" y2="240" stroke="#d42a36" stroke-width="2.8" stroke-linecap="butt"/>
<line x1="1013.25" y1="238.75" x2="1013.25" y2="285" stroke="#d42a36" stroke-width="2.8" stroke-linecap="butt"/>
<line x1="1031.25" y1="287" x2="1061.25" y2="257.5" stroke="#d42a36" stroke-width="2.8" stroke-linecap="butt"/>
<line x1="1023" y1="291.25" x2="1023" y2="345" stroke="#d42a36" stroke-width="2.8" stroke-linecap="butt"/>
<line x1="1033.75" y1="346.25" x2="1065" y2="315" stroke="#d42a36" stroke-width="2.8" stroke-linecap="butt"/>
<line x1="1119.5" y1="299.5" x2="1144.5" y2="273.75" stroke="#d42a36" stroke-width="2.8" stroke-linecap="butt"/>
<line x1="1142" y1="366" x2="1142" y2="395.5" stroke="#d42a36" stroke-width="2.8" stroke-linecap="butt"/>
<text transform="translate(830,91.75) rotate(-39.8)" x="0" y="7.56" text-anchor="middle" font-size="21"><tspan font-weight="bold" letter-spacing="-0.3">45</tspan><tspan class="cm" textLength="32" lengthAdjust="spacingAndGlyphs">cm</tspan></text>
<text transform="translate(1009.25,99.25) rotate(7.4)" x="0" y="7.56" text-anchor="middle" font-size="21"><tspan font-weight="bold" letter-spacing="-0.3">150</tspan><tspan class="cm" textLength="32" lengthAdjust="spacingAndGlyphs">cm</tspan></text>
<text transform="translate(940.5,148.75) rotate(-40)" x="0" y="7.56" text-anchor="middle" font-size="21"><tspan font-weight="bold" letter-spacing="-0.3">42</tspan><tspan class="cm" textLength="32" lengthAdjust="spacingAndGlyphs">cm</tspan></text>
<text transform="translate(866.25,215.5) rotate(-39)" x="0" y="7.56" text-anchor="middle" font-size="21"><tspan font-weight="bold" letter-spacing="-0.3">39</tspan><tspan class="cm" textLength="32" lengthAdjust="spacingAndGlyphs">cm</tspan></text>
<text transform="translate(916.25,216.25) rotate(-90)" x="0" y="7.56" text-anchor="middle" font-size="21"><tspan font-weight="bold" letter-spacing="-0.3">32</tspan><tspan class="cm" textLength="32" lengthAdjust="spacingAndGlyphs">cm</tspan></text>
<text transform="translate(960,229.25) rotate(-40)" x="0" y="7.56" text-anchor="middle" font-size="21"><tspan font-weight="bold" letter-spacing="-0.3">40</tspan><tspan class="cm" textLength="32" lengthAdjust="spacingAndGlyphs">cm</tspan></text>
<text transform="translate(865.5,258.75) rotate(7)" x="0" y="7.56" text-anchor="middle" font-size="21"><tspan font-weight="bold" letter-spacing="-0.3">38</tspan><tspan class="cm" textLength="32" lengthAdjust="spacingAndGlyphs">cm</tspan></text>
<text transform="translate(862.5,290.6) rotate(-90)" x="0" y="7.56" text-anchor="middle" font-size="21"><tspan font-weight="bold" letter-spacing="-0.3">32</tspan><tspan class="cm" textLength="32" lengthAdjust="spacingAndGlyphs">cm</tspan></text>
<text transform="translate(960,277.5) rotate(7)" x="0" y="7.56" text-anchor="middle" font-size="21"><tspan font-weight="bold" letter-spacing="-0.3">37</tspan><tspan class="cm" textLength="32" lengthAdjust="spacingAndGlyphs">cm</tspan></text>
<text transform="translate(956.25,307.5) rotate(-40)" x="0" y="7.56" text-anchor="middle" font-size="21"><tspan font-weight="bold" letter-spacing="-0.3">40</tspan><tspan class="cm" textLength="32" lengthAdjust="spacingAndGlyphs">cm</tspan></text>
<text transform="translate(1031.25,198) rotate(6)" x="0" y="7.56" text-anchor="middle" font-size="21"><tspan font-weight="bold" letter-spacing="-0.3">30</tspan><tspan class="cm" textLength="32" lengthAdjust="spacingAndGlyphs">cm</tspan></text>
<text transform="translate(1056,213) rotate(-90)" x="0" y="7.56" text-anchor="middle" font-size="21"><tspan font-weight="bold" letter-spacing="-0.3">19</tspan><tspan class="cm" textLength="32" lengthAdjust="spacingAndGlyphs">cm</tspan></text>
<text transform="translate(1003.75,250.6) rotate(-90)" x="0" y="7.56" text-anchor="middle" font-size="21"><tspan font-weight="bold" letter-spacing="-0.3">20</tspan><tspan class="cm" textLength="32" lengthAdjust="spacingAndGlyphs">cm</tspan></text>
<text transform="translate(1040.5,261.25) rotate(-42)" x="0" y="7.56" text-anchor="middle" font-size="21"><tspan font-weight="bold" letter-spacing="-0.3">39</tspan><tspan class="cm" textLength="32" lengthAdjust="spacingAndGlyphs">cm</tspan></text>
<text transform="translate(1012.5,317) rotate(-90)" x="0" y="7.56" text-anchor="middle" font-size="21"><tspan font-weight="bold" letter-spacing="-0.3">22</tspan><tspan class="cm" textLength="32" lengthAdjust="spacingAndGlyphs">cm</tspan></text>
<text transform="translate(1046.75,318.75) rotate(-42)" x="0" y="7.56" text-anchor="middle" font-size="21"><tspan font-weight="bold" letter-spacing="-0.3">40</tspan><tspan class="cm" textLength="32" lengthAdjust="spacingAndGlyphs">cm</tspan></text>
<text transform="translate(1131.25,273.75) rotate(-42)" x="0" y="7.56" text-anchor="middle" font-size="21"><tspan font-weight="bold" letter-spacing="-0.3">33</tspan><tspan class="cm" textLength="32" lengthAdjust="spacingAndGlyphs">cm</tspan></text>
<text transform="translate(1233.75,257.5) rotate(90)" x="0" y="7.56" text-anchor="middle" font-size="21"><tspan font-weight="bold" letter-spacing="-0.3">90</tspan><tspan class="cm" textLength="32" lengthAdjust="spacingAndGlyphs">cm</tspan></text>
<text transform="translate(1154,395.5) rotate(90)" x="0" y="7.56" text-anchor="middle" font-size="21"><tspan font-weight="bold" letter-spacing="-0.3">15</tspan><tspan class="cm" textLength="32" lengthAdjust="spacingAndGlyphs">cm</tspan></text>
<line x1="866.1" y1="411.1" x2="890" y2="376.7" stroke="#d42a36" stroke-width="2.8" stroke-linecap="butt"/>
<line x1="890" y1="376.7" x2="943.7" y2="402.7" stroke="#d42a36" stroke-width="2.8" stroke-linecap="butt"/>
<line x1="890" y1="379.8" x2="890" y2="416.8" stroke="#b0b0b0" stroke-width="1.3" />
<line x1="866.5" y1="411" x2="866.5" y2="431" stroke="#b0b0b0" stroke-width="1.3" />
<line x1="944.2" y1="402.7" x2="944.2" y2="420" stroke="#b0b0b0" stroke-width="1.3" />
<path d="M866.6,431.3 L889,400 L948.4,422.4 L949,440.7 L925.5,473" stroke="#737373" stroke-width="2.8600000000000003" fill="none" stroke-linejoin="round" stroke-linecap="round"/>
<path d="M853.6,426.6 L853.6,463.6 L924.4,492.3 L924.4,456.8" stroke="#737373" stroke-width="2.8600000000000003" fill="none" stroke-linejoin="round" stroke-linecap="round"/>
<path d="M853.6,426.6 L867,432" stroke="#737373" stroke-width="2.8600000000000003" fill="none" stroke-linejoin="round" stroke-linecap="round"/>
<path d="M867,432 L924.4,456.8" stroke="#666666" stroke-width="1.1" fill="none" stroke-linejoin="round"/>
<path d="M869,434.5 L924.4,459.5" stroke="#666666" stroke-width="0.8800000000000001" fill="none" stroke-linejoin="round"/>
<path d="M924.4,456.8 L948.4,422.4" stroke="#666666" stroke-width="1.1" fill="none" stroke-linejoin="round"/>
<path d="M926.5,459 L947,430" stroke="#666666" stroke-width="0.8800000000000001" fill="none" stroke-linejoin="round"/>
<path d="M878.6,435.4 L891,417.7 L932.8,435.4" stroke="#666666" stroke-width="1.1" fill="none" stroke-linejoin="round"/>
<line x1="900" y1="405.9" x2="900" y2="422" stroke="#d42a36" stroke-width="2.8" stroke-linecap="butt"/>
<circle cx="888" cy="454.7" r="2.8" stroke="#777" stroke-width="1.1" fill="#d8d8d8"/>
<line x1="950" y1="430.75" x2="1106.25" y2="336.25" stroke="#222" stroke-width="0.9" />
<text transform="translate(871.8,384) rotate(-55)" x="0" y="7.56" text-anchor="middle" font-size="21"><tspan font-weight="bold" letter-spacing="-0.3">33</tspan><tspan class="cm" textLength="32" lengthAdjust="spacingAndGlyphs">cm</tspan></text>
<text transform="translate(926,385.2) rotate(25.8)" x="0" y="7.56" text-anchor="middle" font-size="21"><tspan font-weight="bold" letter-spacing="-0.3">31</tspan><tspan class="cm" textLength="32" lengthAdjust="spacingAndGlyphs">cm</tspan></text>
<text transform="translate(910.9,432.5) rotate(90)" x="0" y="7.56" text-anchor="middle" font-size="21"><tspan font-weight="bold" letter-spacing="-0.3">14</tspan><tspan class="cm" textLength="32" lengthAdjust="spacingAndGlyphs">cm</tspan></text>
<line x1="786" y1="525.5" x2="797.5" y2="515" stroke="#d42a36" stroke-width="2.8" stroke-linecap="butt"/>
<line x1="797.5" y1="515" x2="1226.4" y2="568.2" stroke="#d42a36" stroke-width="2.8" stroke-linecap="butt"/>
<line x1="798.8" y1="515" x2="798.8" y2="587" stroke="#b0b0b0" stroke-width="1.3" />
<line x1="786.3" y1="525.5" x2="786.3" y2="597" stroke="#b0b0b0" stroke-width="1.3" />
<line x1="1226.4" y1="568.2" x2="1226.4" y2="642.5" stroke="#b0b0b0" stroke-width="1.3" />
<line x1="1210.3" y1="597.7" x2="1245.7" y2="599.8" stroke="#6a6a6a" stroke-width="0.9" />
<line x1="1209.2" y1="664" x2="1245.7" y2="666.3" stroke="#6a6a6a" stroke-width="0.9" />
<line x1="1245.7" y1="599.8" x2="1245.7" y2="666.5" stroke="#d42a36" stroke-width="2.8" stroke-linecap="butt"/>
<path d="M818,591 L818,548.3 L1209.2,597.7 L1208.2,640 L1225.9,641.5 L1227,646.7 L1214.4,657.7 L1209.2,657.7 L1209.2,664.4 L817.5,615 L817.5,607.8 L786.3,605.2 L786.3,596.8 L798.2,586.9 Z" stroke="#737373" stroke-width="3.5" fill="none" stroke-linejoin="round" stroke-linecap="round"/>
<path d="M819,590 L1207,640" stroke="#666666" stroke-width="1.1" fill="none" stroke-linejoin="round"/>
<path d="M787.8,600 L1207,652" stroke="#666666" stroke-width="1.1" fill="none" stroke-linejoin="round"/>
<path d="M819.6,608.8 L1207,656.5" stroke="#666666" stroke-width="1.1" fill="none" stroke-linejoin="round"/>
<path d="M1207,652 L1226,642" stroke="#666666" stroke-width="0.8800000000000001" fill="none" stroke-linejoin="round"/>
<circle cx="1173.8" cy="639.4" r="0.9" fill="#555"/>
<line x1="818" y1="578" x2="1207" y2="626.9" stroke="#d42a36" stroke-width="2.8" stroke-linecap="butt"/>
<line x1="914.3" y1="614" x2="923.7" y2="603.7" stroke="#d42a36" stroke-width="2.8" stroke-linecap="butt"/>
<line x1="1128.2" y1="591.1" x2="1128.2" y2="628.7" stroke="#d42a36" stroke-width="2.8" stroke-linecap="butt"/>
<text transform="translate(795.4,500.9) rotate(-40)" x="0" y="7.56" text-anchor="middle" font-size="21"><tspan font-weight="bold" letter-spacing="-0.3">12</tspan><tspan class="cm" textLength="32" lengthAdjust="spacingAndGlyphs">cm</tspan></text>
<text transform="translate(1019.5,529) rotate(7)" x="0" y="7.56" text-anchor="middle" font-size="21"><tspan font-weight="bold" letter-spacing="-0.3">135</tspan><tspan class="cm" textLength="32" lengthAdjust="spacingAndGlyphs">cm</tspan></text>
<text transform="translate(1008,589) rotate(7)" x="0" y="7.56" text-anchor="middle" font-size="21"><tspan font-weight="bold" letter-spacing="-0.3">123</tspan><tspan class="cm" textLength="32" lengthAdjust="spacingAndGlyphs">cm</tspan></text>
<text transform="translate(923,586) rotate(-42)" x="0" y="7.56" text-anchor="middle" font-size="21"><tspan font-weight="bold" letter-spacing="-0.3">10</tspan><tspan class="cm" textLength="32" lengthAdjust="spacingAndGlyphs">cm</tspan></text>
<text transform="translate(1139.3,620.4) rotate(90)" x="0" y="7.56" text-anchor="middle" font-size="21"><tspan font-weight="bold" letter-spacing="-0.3">12</tspan><tspan class="cm" textLength="32" lengthAdjust="spacingAndGlyphs">cm</tspan></text>
<text transform="translate(1258,637.5) rotate(90)" x="0" y="7.56" text-anchor="middle" font-size="21"><tspan font-weight="bold" letter-spacing="-0.3">20</tspan><tspan class="cm" textLength="32" lengthAdjust="spacingAndGlyphs">cm</tspan></text>
<line x1="86.25" y1="698.75" x2="132.5" y2="659.5" stroke="#d42a36" stroke-width="2.8" stroke-linecap="butt"/>
<line x1="132.5" y1="659.5" x2="580.75" y2="713.75" stroke="#d42a36" stroke-width="2.8" stroke-linecap="butt"/>
<line x1="132.5" y1="659.5" x2="132.5" y2="687.5" stroke="#b0b0b0" stroke-width="1.3" />
<line x1="86.25" y1="698.75" x2="86.25" y2="722.5" stroke="#b0b0b0" stroke-width="1.3" />
<line x1="580.75" y1="713.75" x2="580.75" y2="745" stroke="#b0b0b0" stroke-width="1.3" />
<line x1="580.75" y1="745" x2="608.6" y2="748.75" stroke="#6a6a6a" stroke-width="0.9" />
<line x1="608.6" y1="748.75" x2="608.6" y2="924.4" stroke="#d42a36" stroke-width="2.8" stroke-linecap="butt"/>
<line x1="558" y1="917.7" x2="608.6" y2="924.4" stroke="#6a6a6a" stroke-width="0.9" />
<path d="M132.5,687.5 L582.5,745 L582.7,869.5 L537.8,909.7 L87.5,853.5 L87.5,736 Q88,727 95,721.5 Z" stroke="#737373" stroke-width="3.5" fill="none" stroke-linejoin="round" stroke-linecap="round"/>
<path d="M579,748.2 L134.3,691.3 L100,723.5 Q91.5,731 91.5,742 L91.5,848.5" stroke="#666666" stroke-width="1.1" fill="none" stroke-linejoin="round"/>
<path d="M92,848.5 L533,902.5" stroke="#666666" stroke-width="1.1" fill="none" stroke-linejoin="round"/>
<path d="M577,748 L540,779.5 Q533.2,785 533.2,793 L533.2,904.5" stroke="#666666" stroke-width="1.32" fill="none" stroke-linejoin="round"/>
<path d="M580,749.5 L544,781 Q536.9,787 536.9,795 L536.9,903" stroke="#666666" stroke-width="0.9900000000000001" fill="none" stroke-linejoin="round"/>
<path d="M135,693.5 L135,711.25 L95,748.5" stroke="#666666" stroke-width="1.1" fill="none" stroke-linejoin="round"/>
<path d="M135,711.25 L555,762.5" stroke="#666666" stroke-width="1.1" fill="none" stroke-linejoin="round"/>
<path d="M95,748.5 L531,803.5" stroke="#666666" stroke-width="1.1" fill="none" stroke-linejoin="round"/>
<path d="M95,754.5 L531,808.5" stroke="#666666" stroke-width="1.1" fill="none" stroke-linejoin="round"/>
<line x1="136.25" y1="758.75" x2="136.25" y2="812.5" stroke="#858585" stroke-width="1.15" stroke-dasharray="11.5 11.5"/>
<circle cx="172" cy="777.6" r="2.0" stroke="#777" stroke-width="1.1" fill="#d8d8d8"/>
<line x1="136.25" y1="812.5" x2="245" y2="825" stroke="#858585" stroke-width="1.15" stroke-dasharray="11.5 11.5"/>
<line x1="97.5" y1="847.5" x2="136.25" y2="812.5" stroke="#858585" stroke-width="1.15" stroke-dasharray="11.5 11.5"/>
<path d="M246.3,773.75 L246.3,864" stroke="#666666" stroke-width="1.2100000000000002" fill="none" stroke-linejoin="round"/>
<path d="M276,784 L247,811.5" stroke="#666666" stroke-width="1.1" fill="none" stroke-linejoin="round"/>
<path d="M255,813.3 L385,828.6" stroke="#666666" stroke-width="1.4300000000000002" fill="none" stroke-linejoin="round"/>
<path d="M255,816.2 L385,831.6" stroke="#666666" stroke-width="1.4300000000000002" fill="none" stroke-linejoin="round"/>
<path d="M284,831 L247,863.5" stroke="#666666" stroke-width="1.1" fill="none" stroke-linejoin="round"/>
<path d="M386.3,791 L386.3,884" stroke="#666666" stroke-width="1.2100000000000002" fill="none" stroke-linejoin="round"/>
<path d="M390.7,791.5 L390.7,884" stroke="#666666" stroke-width="0.8800000000000001" fill="none" stroke-linejoin="round"/>
<path d="M422.5,796 L422.5,889" stroke="#666666" stroke-width="1.2100000000000002" fill="none" stroke-linejoin="round"/>
<path d="M426.9,796.5 L426.9,889" stroke="#666666" stroke-width="0.8800000000000001" fill="none" stroke-linejoin="round"/>
<path d="M460.1,800 L460.1,893" stroke="#666666" stroke-width="1.2100000000000002" fill="none" stroke-linejoin="round"/>
<path d="M464.5,800.5 L464.5,893" stroke="#666666" stroke-width="0.8800000000000001" fill="none" stroke-linejoin="round"/>
<path d="M497.6,805 L497.6,897.6" stroke="#666666" stroke-width="1.2100000000000002" fill="none" stroke-linejoin="round"/>
<path d="M502.0,805.5 L502.0,897.6" stroke="#666666" stroke-width="0.8800000000000001" fill="none" stroke-linejoin="round"/>
<path d="M390.7,884 L422.5,857" stroke="#666666" stroke-width="0.9900000000000001" fill="none" stroke-linejoin="round"/>
<path d="M427,889 L460,862" stroke="#666666" stroke-width="0.9900000000000001" fill="none" stroke-linejoin="round"/>
<path d="M464.8,893 L497.6,865.5" stroke="#666666" stroke-width="0.9900000000000001" fill="none" stroke-linejoin="round"/>
<path d="M502.3,897.6 L532.5,872" stroke="#666666" stroke-width="0.9900000000000001" fill="none" stroke-linejoin="round"/>
<path d="M110.2,855 L110.2,898.5 L118.5,898.5 L118.5,855" stroke="#737373" stroke-width="2.6" fill="none" stroke-linejoin="round" stroke-linecap="round"/>
<path d="M341.5,888 L341.5,898.5 L349.5,898.5 L349.5,888" stroke="#737373" stroke-width="2.6" fill="none" stroke-linejoin="round" stroke-linecap="round"/>
<path d="M514,909 L515,948.5 L522.4,948.5 L523.6,909" stroke="#737373" stroke-width="2.6" fill="none" stroke-linejoin="round" stroke-linecap="round"/>
<path d="M550,898.8 L550,918.3 L558,918.3 L558,891.6" stroke="#737373" stroke-width="2.6" fill="none" stroke-linejoin="round" stroke-linecap="round"/>
<line x1="221.25" y1="765" x2="266.25" y2="726.25" stroke="#d42a36" stroke-width="2.8" stroke-linecap="butt"/>
<line x1="516.25" y1="736.25" x2="516.25" y2="758" stroke="#d42a36" stroke-width="2.8" stroke-linecap="butt"/>
<line x1="136.25" y1="792" x2="245" y2="805" stroke="#d42a36" stroke-width="2.8" stroke-linecap="butt"/>
<line x1="221.25" y1="768.75" x2="221.25" y2="865" stroke="#d42a36" stroke-width="2.8" stroke-linecap="butt"/>
<line x1="292" y1="778.75" x2="292" y2="816.25" stroke="#d42a36" stroke-width="2.8" stroke-linecap="butt"/>
<line x1="312.5" y1="818.75" x2="353.75" y2="786.25" stroke="#d42a36" stroke-width="2.8" stroke-linecap="butt"/>
<line x1="266.25" y1="817.5" x2="266.25" y2="871.25" stroke="#d42a36" stroke-width="2.8" stroke-linecap="butt"/>
<line x1="283.75" y1="831.25" x2="385" y2="844.5" stroke="#d42a36" stroke-width="2.8" stroke-linecap="butt"/>
<line x1="283.75" y1="872.5" x2="325" y2="837.5" stroke="#d42a36" stroke-width="2.8" stroke-linecap="butt"/>
<line x1="391.25" y1="822" x2="422.5" y2="825" stroke="#d42a36" stroke-width="2.8" stroke-linecap="butt"/>
<line x1="465" y1="830" x2="497" y2="833" stroke="#d42a36" stroke-width="2.8" stroke-linecap="butt"/>
<line x1="428.75" y1="873.75" x2="459.5" y2="877" stroke="#d42a36" stroke-width="2.8" stroke-linecap="butt"/>
<line x1="502.5" y1="882" x2="531.25" y2="885" stroke="#d42a36" stroke-width="2.8" stroke-linecap="butt"/>
<line x1="118.7" y1="860" x2="118.7" y2="897" stroke="#d42a36" stroke-width="2.8" stroke-linecap="butt"/>
<text transform="translate(103.75,670.5) rotate(-40)" x="0" y="7.56" text-anchor="middle" font-size="21"><tspan font-weight="bold" letter-spacing="-0.3">40</tspan><tspan class="cm" textLength="32" lengthAdjust="spacingAndGlyphs">cm</tspan></text>
<text transform="translate(344.25,673.75) rotate(7)" x="0" y="7.56" text-anchor="middle" font-size="21"><tspan font-weight="bold" letter-spacing="-0.3">150</tspan><tspan class="cm" textLength="32" lengthAdjust="spacingAndGlyphs">cm</tspan></text>
<text transform="translate(233.75,739.25) rotate(-39)" x="0" y="7.56" text-anchor="middle" font-size="21"><tspan font-weight="bold" letter-spacing="-0.3">37</tspan><tspan class="cm" textLength="32" lengthAdjust="spacingAndGlyphs">cm</tspan></text>
<text transform="translate(173,785) rotate(7)" x="0" y="7.56" text-anchor="middle" font-size="21"><tspan font-weight="bold" letter-spacing="-0.3">48</tspan><tspan class="cm" textLength="32" lengthAdjust="spacingAndGlyphs">cm</tspan></text>
<text transform="translate(210,828) rotate(-90)" x="0" y="7.56" text-anchor="middle" font-size="21"><tspan font-weight="bold" letter-spacing="-0.3">31</tspan><tspan class="cm" textLength="32" lengthAdjust="spacingAndGlyphs">cm</tspan></text>
<text transform="translate(281.25,780) rotate(-90)" x="0" y="7.56" text-anchor="middle" font-size="21"><tspan font-weight="bold" letter-spacing="-0.3">14</tspan><tspan class="cm" textLength="32" lengthAdjust="spacingAndGlyphs">cm</tspan></text>
<text transform="translate(323.75,795.5) rotate(-39)" x="0" y="7.56" text-anchor="middle" font-size="21"><tspan font-weight="bold" letter-spacing="-0.3">33</tspan><tspan class="cm" textLength="32" lengthAdjust="spacingAndGlyphs">cm</tspan></text>
<text transform="translate(255.5,833.75) rotate(-90)" x="0" y="7.56" text-anchor="middle" font-size="21"><tspan font-weight="bold" letter-spacing="-0.3">16</tspan><tspan class="cm" textLength="32" lengthAdjust="spacingAndGlyphs">cm</tspan></text>
<text transform="translate(346.25,828) rotate(7)" x="0" y="7.56" text-anchor="middle" font-size="21"><tspan font-weight="bold" letter-spacing="-0.3">46</tspan><tspan class="cm" textLength="32" lengthAdjust="spacingAndGlyphs">cm</tspan></text>
<text transform="translate(296.75,845.5) rotate(-39)" x="0" y="7.56" text-anchor="middle" font-size="21"><tspan font-weight="bold" letter-spacing="-0.3">35</tspan><tspan class="cm" textLength="32" lengthAdjust="spacingAndGlyphs">cm</tspan></text>
<text transform="translate(506.25,732) rotate(-90)" x="0" y="7.56" text-anchor="middle" font-size="21"><tspan font-weight="bold" letter-spacing="-0.3">6</tspan><tspan class="cm" textLength="32" lengthAdjust="spacingAndGlyphs">cm</tspan></text>
<text transform="translate(415,812.5) rotate(5)" x="0" y="7.56" text-anchor="middle" font-size="21"><tspan font-weight="bold" letter-spacing="-0.3">10</tspan><tspan class="cm" textLength="32" lengthAdjust="spacingAndGlyphs">cm</tspan></text>
<text transform="translate(490,819.25) rotate(5)" x="0" y="7.56" text-anchor="middle" font-size="21"><tspan font-weight="bold" letter-spacing="-0.3">11</tspan><tspan class="cm" textLength="32" lengthAdjust="spacingAndGlyphs">cm</tspan></text>
<text transform="translate(451.25,863.75) rotate(5)" x="0" y="7.56" text-anchor="middle" font-size="21"><tspan font-weight="bold" letter-spacing="-0.3">10</tspan><tspan class="cm" textLength="32" lengthAdjust="spacingAndGlyphs">cm</tspan></text>
<text transform="translate(524.25,871.75) rotate(5)" x="0" y="7.56" text-anchor="middle" font-size="21"><tspan font-weight="bold" letter-spacing="-0.3">10</tspan><tspan class="cm" textLength="32" lengthAdjust="spacingAndGlyphs">cm</tspan></text>
<text transform="translate(620,835.6) rotate(90)" x="0" y="7.56" text-anchor="middle" font-size="21"><tspan font-weight="bold" letter-spacing="-0.3">57</tspan><tspan class="cm" textLength="32" lengthAdjust="spacingAndGlyphs">cm</tspan></text>
<text transform="translate(131,892) rotate(90)" x="0" y="7.56" text-anchor="middle" font-size="21"><tspan font-weight="bold" letter-spacing="-0.3">15</tspan><tspan class="cm" textLength="32" lengthAdjust="spacingAndGlyphs">cm</tspan></text>
<line x1="736.7" y1="734.2" x2="1050.5" y2="703" stroke="#d42a36" stroke-width="2.8" stroke-linecap="butt"/>
<line x1="737.1" y1="734.2" x2="737.1" y2="779.6" stroke="#b0b0b0" stroke-width="1.3" />
<line x1="1050.5" y1="703" x2="1050.5" y2="742.5" stroke="#b0b0b0" stroke-width="1.3" />
<line x1="1191.7" y1="756.7" x2="1220.9" y2="757.2" stroke="#6a6a6a" stroke-width="0.9" />
<line x1="1220.9" y1="757.2" x2="1220.9" y2="916.8" stroke="#d42a36" stroke-width="2.8" stroke-linecap="butt"/>
<line x1="1155.8" y1="916.2" x2="1220.9" y2="916.8" stroke="#6a6a6a" stroke-width="0.9" />
<path d="M838.4,794.7 L991.3,790.8 L991.3,800.2 L838.4,815 Z" fill="#ebebeb" stroke="#737373" stroke-width="2.4" stroke-linejoin="round"/>
<path d="M838.4,834.5 L991.3,821 L991.3,828.4 L838.4,844.2 Z" fill="#ebebeb" stroke="#737373" stroke-width="2.4" stroke-linejoin="round"/>
<path d="M1065.3,785.6 L1081,785.6 L1081,822.6 L1065.3,823.2 Z" fill="#ebebeb" stroke="#737373" stroke-width="2.4" stroke-linejoin="round"/>
<path d="M991.3,800.2 L1002.7,799.2 L1048.6,809.6 L1048.6,813.8 L991.3,821" stroke="#666666" stroke-width="1.1" fill="none" stroke-linejoin="round"/>
<path d="M838.4,818 L870,815 L991.3,800.5" stroke="#666666" stroke-width="0.8800000000000001" fill="none" stroke-linejoin="round"/>
<path d="M839.5,828.6 L991.3,815.5" stroke="#666666" stroke-width="0.8800000000000001" fill="none" stroke-linejoin="round"/>
<path d="M994.4,789.8 L1058,786.5" stroke="#666666" stroke-width="1.1" fill="none" stroke-linejoin="round"/>
<path d="M991.3,828.4 L991.3,837.8" stroke="#666666" stroke-width="0.9900000000000001" fill="none" stroke-linejoin="round"/>
<path d="M833.7,796 L833.7,874" stroke="#666666" stroke-width="1.1" fill="none" stroke-linejoin="round"/>
<path d="M835.8,796 L836.8,874" stroke="#666666" stroke-width="0.8800000000000001" fill="none" stroke-linejoin="round"/>
<path d="M1060.6,786 L1060.6,853.4" stroke="#666666" stroke-width="1.1" fill="none" stroke-linejoin="round"/>
<path d="M1064.2,786 L1064.2,853.4" stroke="#666666" stroke-width="0.8800000000000001" fill="none" stroke-linejoin="round"/>
<path d="M1184.4,773.4 L1183.5,845.3" stroke="#666666" stroke-width="0.9900000000000001" fill="none" stroke-linejoin="round"/>
<path d="M790.5,797.3 L790.5,855.1" stroke="#737373" stroke-width="3.5" fill="none" stroke-linejoin="round" stroke-linecap="round"/>
<path d="M1188.6,771.3 L1188.1,839" stroke="#737373" stroke-width="3.5" fill="none" stroke-linejoin="round" stroke-linecap="round"/>
<path d="M790.5,797.3 L761.3,796.8 Q737,795 736.3,789 L736.8,780.7 C 762,767 850,749 1000,744.5 C 1080,742.5 1160,746 1186,756 Q 1195,760 1193.8,767.1 Q 1192.5,771 1188.6,772" stroke="#737373" stroke-width="3.5" fill="none" stroke-linejoin="round" stroke-linecap="round"/>
<path d="M739.4,784.8 C 760,789 800,789 870,786.4 C 960,785 1030,782 1100,776.7 C 1150,772 1180,768 1190.7,764.5" stroke="#666666" stroke-width="1.54" fill="none" stroke-linejoin="round"/>
<path d="M790.5,796.8 L834,796.3" stroke="#666666" stroke-width="1.1" fill="none" stroke-linejoin="round"/>
<path d="M1085,785.1 C 1120,781.4 1160,777 1186.5,772.8" stroke="#666666" stroke-width="1.1" fill="none" stroke-linejoin="round"/>
<path d="M790.5,855.1 C 770,858 745,863 738,869 Q 734.5,876 741,880.5 C 770,885 810,886.5 845,885.9 C 950,883 1080,872 1153.9,864.3 C 1175,861 1190,857 1191.9,852.9 Q 1194,846 1188.1,839" stroke="#737373" stroke-width="3.5" fill="none" stroke-linejoin="round" stroke-linecap="round"/>
<path d="M738.8,874 C 780,876 840,876 900,874 C 1000,871 1100,863 1153.9,856.7 C 1172,854 1185,851 1188.1,847.8" stroke="#666666" stroke-width="1.1" fill="none" stroke-linejoin="round"/>
<path d="M782.5,886.5 L783,943 L789,943 L789,887" stroke="#737373" stroke-width="2.4200000000000004" fill="none" stroke-linejoin="round" stroke-linecap="round"/>
<path d="M1053,875.7 L1053,892.8 L1062.8,892.8 L1062.8,874.5" stroke="#737373" stroke-width="2.4200000000000004" fill="none" stroke-linejoin="round" stroke-linecap="round"/>
<path d="M1145,865.6 L1146,916.8 L1155.5,916.2 L1155.8,864.5" stroke="#737373" stroke-width="2.4200000000000004" fill="none" stroke-linejoin="round" stroke-linecap="round"/>
<line x1="997.7" y1="746.7" x2="1126" y2="774.9" stroke="#d42a36" stroke-width="2.8" stroke-linecap="butt"/>
<line x1="917" y1="808.9" x2="957.7" y2="817.6" stroke="#d42a36" stroke-width="2.8" stroke-linecap="butt"/>
<line x1="790.9" y1="861.4" x2="833.6" y2="875" stroke="#d42a36" stroke-width="2.8" stroke-linecap="butt"/>
<line x1="991.3" y1="837.8" x2="1059" y2="853.4" stroke="#d42a36" stroke-width="2.8" stroke-linecap="butt"/>
<line x1="1081" y1="823.2" x2="1182.4" y2="844.2" stroke="#d42a36" stroke-width="2.8" stroke-linecap="butt"/>
<line x1="794.2" y1="887" x2="794.2" y2="943" stroke="#d42a36" stroke-width="2.8" stroke-linecap="butt"/>
<text transform="translate(900.4,708) rotate(-5.7)" x="0" y="7.56" text-anchor="middle" font-size="21"><tspan font-weight="bold" letter-spacing="-0.3">120</tspan><tspan class="cm" textLength="32" lengthAdjust="spacingAndGlyphs">cm</tspan></text>
<text transform="translate(952.9,804.5) rotate(12)" x="0" y="7.56" text-anchor="middle" font-size="21"><tspan font-weight="bold" letter-spacing="-0.3">19</tspan><tspan class="cm" textLength="32" lengthAdjust="spacingAndGlyphs">cm</tspan></text>
<text transform="translate(823.2,860.4) rotate(17.7)" x="0" y="7.56" text-anchor="middle" font-size="21"><tspan font-weight="bold" letter-spacing="-0.3">20</tspan><tspan class="cm" textLength="32" lengthAdjust="spacingAndGlyphs">cm</tspan></text>
<text transform="translate(1087.8,756.1) rotate(12.4)" x="0" y="7.56" text-anchor="middle" font-size="21"><tspan font-weight="bold" letter-spacing="-0.3">63</tspan><tspan class="cm" textLength="32" lengthAdjust="spacingAndGlyphs">cm</tspan></text>
<text transform="translate(1131.6,823.2) rotate(12.8)" x="0" y="7.56" text-anchor="middle" font-size="21"><tspan font-weight="bold" letter-spacing="-0.3">43</tspan><tspan class="cm" textLength="32" lengthAdjust="spacingAndGlyphs">cm</tspan></text>
<text transform="translate(1029.4,834.7) rotate(13)" x="0" y="7.56" text-anchor="middle" font-size="21"><tspan font-weight="bold" letter-spacing="-0.3">30</tspan><tspan class="cm" textLength="32" lengthAdjust="spacingAndGlyphs">cm</tspan></text>
<text transform="translate(1232.3,843) rotate(90)" x="0" y="7.56" text-anchor="middle" font-size="21"><tspan font-weight="bold" letter-spacing="-0.3">37</tspan><tspan class="cm" textLength="32" lengthAdjust="spacingAndGlyphs">cm</tspan></text>
<text transform="translate(803.4,917) rotate(90)" x="0" y="7.56" text-anchor="middle" font-size="21"><tspan font-weight="bold" letter-spacing="-0.3">15</tspan><tspan class="cm" textLength="32" lengthAdjust="spacingAndGlyphs">cm</tspan></text>
</svg>
</body></html>
